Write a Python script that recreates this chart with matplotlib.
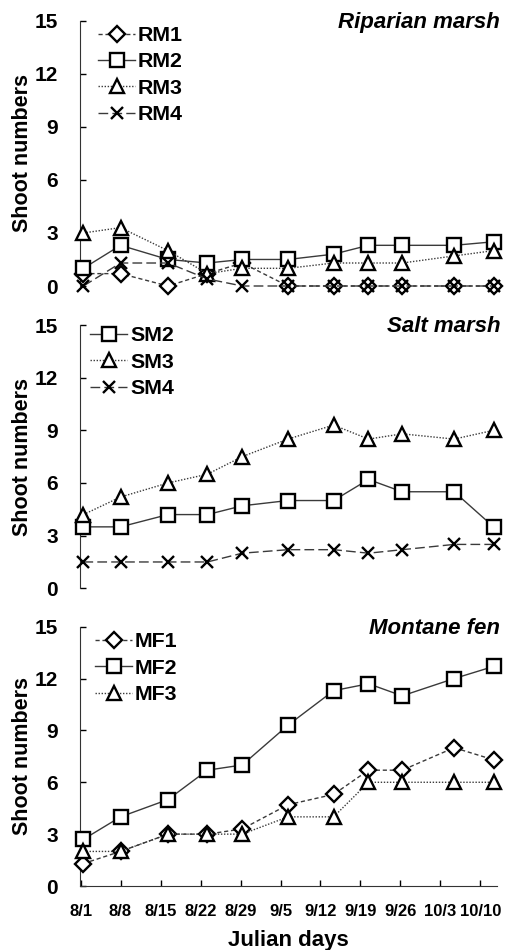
import matplotlib
matplotlib.use("Agg")
import matplotlib.pyplot as plt
import matplotlib.transforms as mtransforms

plt.rcParams['font.family'] = ['Liberation Sans', 'DejaVu Sans']
plt.rcParams['font.weight'] = 'bold'

# sampling days (offset from 8/1)
days = [0.5, 7, 15.3, 22.2, 28.3, 36.3, 44.3, 50.4, 56.3, 65.4, 72.3]
tick_days = [0, 7, 14, 21, 28, 35, 42, 49, 56, 63, 70]
tick_labels = ['8/1', '8/8', '8/15', '8/22', '8/29', '9/5', '9/12', '9/19', '9/26', '10/3', '10/10']
y_ticks = [0, 3, 6, 9, 12, 15]

# Riparian marsh
RM1 = [0.7, 0.7, 0.0, 0.7, 1.3, 0.0, 0.0, 0.0, 0.0, 0.0, 0.0]
RM2 = [1.0, 2.3, 1.5, 1.3, 1.5, 1.5, 1.8, 2.3, 2.3, 2.3, 2.5]
RM3 = [3.0, 3.3, 2.0, 0.7, 1.0, 1.0, 1.3, 1.3, 1.3, 1.7, 2.0]
RM4 = [0.0, 1.3, 1.3, 0.4, 0.0, 0.0, 0.0, 0.0, 0.0, 0.0, 0.0]

# Salt marsh
SM2 = [3.5, 3.5, 4.2, 4.2, 4.7, 5.0, 5.0, 6.2, 5.5, 5.5, 3.5]
SM3 = [4.2, 5.2, 6.0, 6.5, 7.5, 8.5, 9.3, 8.5, 8.8, 8.5, 9.0]
SM4 = [1.5, 1.5, 1.5, 1.5, 2.0, 2.2, 2.2, 2.0, 2.2, 2.5, 2.5]

# Montane fen
MF1 = [1.3, 2.0, 3.0, 3.0, 3.3, 4.7, 5.3, 6.7, 6.7, 8.0, 7.3]
MF2 = [2.7, 4.0, 5.0, 6.7, 7.0, 9.3, 11.3, 11.7, 11.0, 12.0, 12.7]
MF3 = [2.0, 2.0, 3.0, 3.0, 3.0, 4.0, 4.0, 6.0, 6.0, 6.0, 6.0]

LINE_C = '#3a3a3a'
styles = {
    'diamond': dict(marker='D', ms=7.8, ls=(0, (3, 2)),),
    'square': dict(marker='s', ms=9.5, ls='-'),
    'tri': dict(marker='^', ms=10.5, ls=(0, (1, 1.2))),
    'x': dict(marker='x', ms=9, ls=(0, (7, 3))),
}

fig = plt.figure(figsize=(5.07, 9.5), dpi=100)
W, H = 507, 950
left, right = 80 / W, 497 / W
panels = [
    (20.7, 286.0, 'Riparian marsh',
     [('RM1', RM1, 'diamond'), ('RM2', RM2, 'square'), ('RM3', RM3, 'tri'), ('RM4', RM4, 'x')], 0.043, 0.98),
    (325.0, 588.3, 'Salt marsh',
     [('SM2', SM2, 'square'), ('SM3', SM3, 'tri'), ('SM4', SM4, 'x')], 0.024, 0.995),
    (626.7, 886.0, 'Montane fen',
     [('MF1', MF1, 'diamond'), ('MF2', MF2, 'square'), ('MF3', MF3, 'tri')], 0.036, 0.979),
]

axes = []
for i, (top_px, bot_px, title, series, lx, ly) in enumerate(panels):
    ax = fig.add_axes([left, 1 - bot_px / H, right - left, (bot_px - top_px) / H])
    axes.append(ax)
    for name, vals, st in series:
        s = styles[st]
        ax.plot(days, vals, color=LINE_C, lw=1.0, ls=s['ls'], marker=s['marker'],
                ms=s['ms'], mfc='white', mec='black', mew=1.7, label=name,
                clip_on=False, zorder=3)
    ax.set_xlim(-0.1, 72.9)
    ax.set_ylim(0, 15)
    ax.set_yticks(y_ticks)
    ax.tick_params(axis='y', direction='in', length=4, width=1, pad=16, labelsize=15)
    for sp in ['top', 'right']:
        ax.spines[sp].set_visible(False)
    ax.spines['left'].set_color('#333333')
    ax.set_ylabel('Shoot numbers', fontsize=15.5, fontweight='bold', labelpad=1)
    trans = mtransforms.blended_transform_factory(ax.transAxes, ax.transData)
    ax.text(1.008, 14.6, title, transform=trans, ha='right', va='baseline',
            fontsize=16, fontweight='bold', fontstyle='italic')
    ax.legend(loc='upper left', bbox_to_anchor=(lx, ly), frameon=False,
              fontsize=15.4, handlelength=1.75, handletextpad=0.12,
              labelspacing=0.35, borderpad=0, borderaxespad=0)
    if i < 2:
        ax.spines['bottom'].set_visible(False)
        ax.set_xticks([])
    else:
        ax.spines['bottom'].set_color('#333333')
        ax.set_xticks(tick_days)
        ax.set_xticklabels(tick_labels)
        ax.tick_params(axis='x', direction='in', length=4, width=1, pad=13, labelsize=12)
        ax.set_xlabel('Julian days', fontsize=16, fontweight='bold', labelpad=8)

fig.savefig('out.png', dpi=100)
